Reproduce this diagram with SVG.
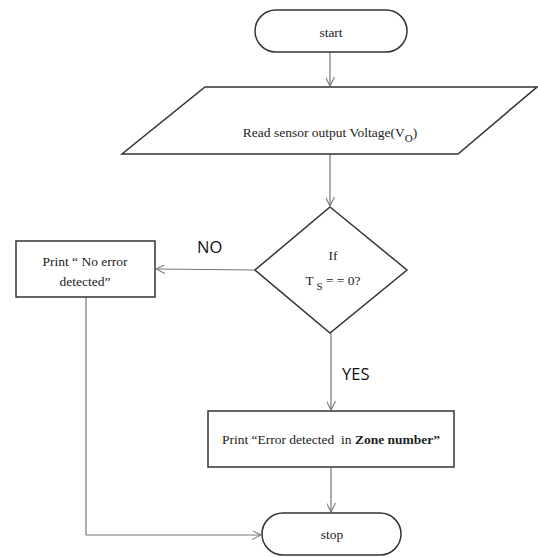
<svg xmlns="http://www.w3.org/2000/svg" width="538" height="557" viewBox="0 0 538 557">
<style>
.shape{fill:#fff;stroke:#333;stroke-width:1.5}
.t{font-family:"Liberation Serif",serif;font-size:13.5px;fill:#222;text-anchor:middle}
.lbl{font-family:"Open Sans","Liberation Sans",sans-serif;font-size:16.5px;fill:#111}
.c{fill:none;stroke:#777;stroke-width:1.2}
</style>
<defs>
<marker id="arr" viewBox="0 0 10 10" refX="10" refY="5" markerWidth="9" markerHeight="9" markerUnits="userSpaceOnUse" orient="auto">
<path d="M0,0 L10,5 L0,10" fill="none" stroke="#777" stroke-width="1.2"/>
</marker>
</defs>
<rect width="538" height="557" fill="#fff"/>
<g id="connectors">
<line class="c" x1="330" y1="52" x2="330" y2="86" marker-end="url(#arr)"/>
<line class="c" x1="330" y1="154" x2="330" y2="206" marker-end="url(#arr)"/>
<line class="c" x1="255" y1="270" x2="156" y2="269" marker-end="url(#arr)"/>
<line class="c" x1="331" y1="333" x2="331" y2="410" marker-end="url(#arr)"/>
<line class="c" x1="331" y1="467" x2="331" y2="512" marker-end="url(#arr)"/>
<polyline class="c" points="86,297 86,535 261,535" marker-end="url(#arr)"/>
<text class="lbl" x="197" y="253">NO</text>
<text class="lbl" x="342" y="380">YES</text>
</g>
<g id="start">
<rect class="shape" x="255" y="10" width="152" height="42" rx="21"/>
<text class="t" x="331" y="37">start</text>
</g>
<g id="read">
<polygon class="shape" points="205,87 537,87 458,154 122,154"/>
<text class="t" x="330" y="137">Read sensor output Voltage(V<tspan font-size="11" dy="5">O</tspan><tspan dy="-5">)</tspan></text>
</g>
<g id="decision">
<polygon class="shape" points="330,207 407,270 330,333 255,270"/>
<text class="t" x="333" y="260">If</text>
<text class="t" x="333" y="285">T<tspan font-size="11" dy="5"> S</tspan><tspan dy="-5">  = = 0?</tspan></text>
</g>
<g id="noerror">
<rect class="shape" x="16" y="241" width="139" height="56"/>
<text class="t" x="85" y="266">Print “ No error</text>
<text class="t" x="85" y="286">detected”</text>
</g>
<g id="error">
<rect class="shape" x="208" y="411" width="246" height="56"/>
<text class="t" x="331" y="444">Print “Error detected&#160; in <tspan font-weight="bold">Zone number”</tspan></text>
</g>
<g id="stop">
<rect class="shape" x="262" y="513" width="139" height="42" rx="21"/>
<text class="t" x="332" y="539">stop</text>
</g>
</svg>
